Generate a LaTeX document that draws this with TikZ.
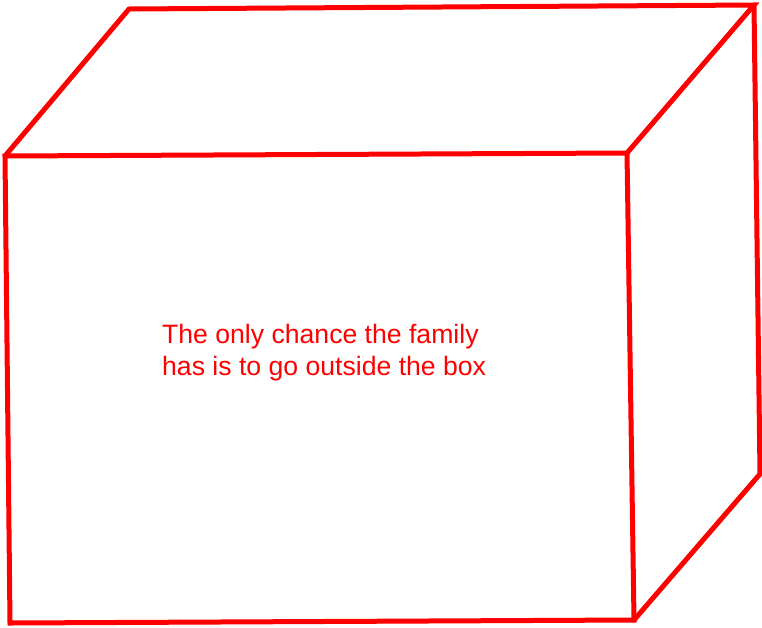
\documentclass[tikz,border=0pt]{standalone}
\usepackage{fontspec}
\setmainfont{Liberation Sans}
\usepackage{xcolor}
\usepackage{tikz}
\definecolor{boxred}{RGB}{255,0,0}

\begin{document}
\begin{tikzpicture}[
  x=1pt,y=-1pt,
  edge/.style={draw=boxred,line width=5pt,line join=miter,line cap=round},
  note/.style={text=boxred,align=left,inner sep=0pt,anchor=north west,
    font=\fontsize{26.6}{32}\selectfont},
]
  \useasboundingbox (0,0) rectangle (762,627);
  % corners of the box
  \coordinate (ftl) at (5,156);
  \coordinate (ftr) at (627,153);
  \coordinate (fbr) at (634,620);
  \coordinate (fbl) at (10,623);
  \coordinate (btl) at (129,9);
  \coordinate (btr) at (754,5);
  \coordinate (bbr) at (760,474);

  \draw[edge] (ftl) -- (ftr) -- (fbr) -- (fbl) -- cycle;
  \draw[edge] (ftl) -- (btl) -- (btr) -- (ftr);
  \draw[edge] (btr) -- (bbr) -- (fbr);

  \node[note] (msg) at (162,324) {The only chance the family\\has is to go outside the box};
\end{tikzpicture}
\end{document}
